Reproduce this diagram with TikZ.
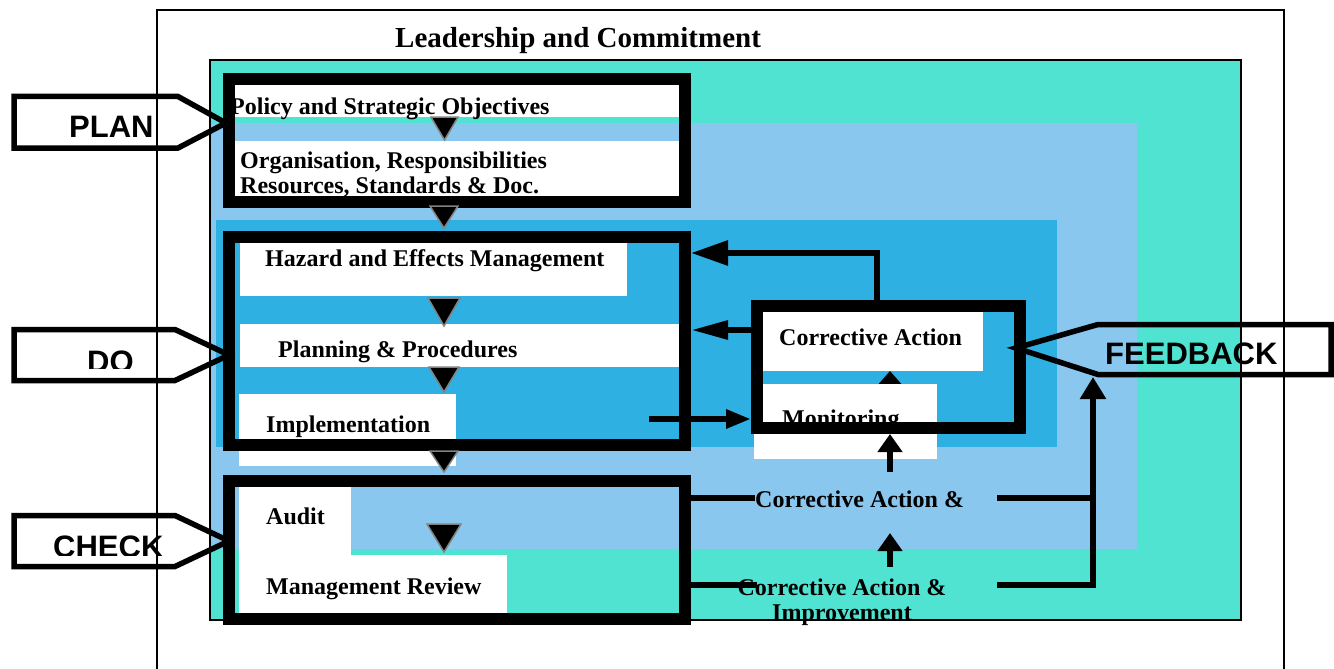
\documentclass[tikz,border=0pt]{standalone}
\usepackage{fontspec}
\setmainfont{Liberation Serif}
\newfontfamily\phasefont{Liberation Sans}
\usetikzlibrary{arrows.meta}

\definecolor{lcteal}{RGB}{80,227,210}
\definecolor{lcsky}{RGB}{138,199,238}
\definecolor{lcblue}{RGB}{47,176,227}
\definecolor{markedge}{RGB}{130,130,130}

\pgfdeclarelayer{fields}
\pgfdeclarelayer{wires}
\pgfsetlayers{fields,wires,main}

\begin{document}
\begin{tikzpicture}[x=1pt,y=-1pt,
  panel/.style={fill=white,draw=none,anchor=north west,inner sep=0pt,outer sep=0pt},
  stagebox/.style={draw=black,line width=12pt,anchor=north west,inner sep=0pt,outer sep=6pt},
  boxtext/.style={font=\fontsize{24}{26}\selectfont\bfseries,anchor=base west,inner sep=0pt},
  phasetext/.style={font=\phasefont\fontsize{31}{33}\selectfont\bfseries,anchor=base west,inner sep=0pt},
  callout/.style={draw=black,line width=5.5pt,line join=miter},
  link/.style={draw=black,line width=6pt},
  pics/flowmark/.style 2 args={code={%
    \draw[fill=black,draw=markedge,line width=1.5pt] (-#1/2,0) -- (#1/2,0) -- (0,#2) -- cycle;}}
]
\useasboundingbox (0,0) rectangle (1334,669);
\clip (0,0) rectangle (1334,669);

% ---- nested fields: leadership, plan, do, check ----
\begin{pgfonlayer}{fields}
  \draw[line width=2pt] (157,10) rectangle (1284,700);
  \path[fill=lcteal,draw=black,line width=2pt] (210,60) rectangle (1241,620);
  \fill[lcsky] (212,123) rectangle (1137,549);
  \fill[lcblue] (216,220) rectangle (1057,447);
\end{pgfonlayer}
\node[anchor=base west,inner sep=0pt,font=\fontsize{29}{31}\selectfont\bfseries]
  (lead) at (395,48) {Leadership and Commitment};

% ---- white panels ----
\node[panel,minimum width=445pt,minimum height=32pt] (polbox)   at (234,85)  {};
\node[panel,minimum width=444pt,minimum height=55pt] (orgbox)   at (235,141) {};
\node[panel,minimum width=387pt,minimum height=53pt] (hazbox)   at (240,243) {};
\node[panel,minimum width=439pt,minimum height=43pt] (planbox)  at (240,324) {};
\node[panel,minimum width=217pt,minimum height=72pt] (implbox)  at (239,394) {};
\node[panel,minimum width=112pt,minimum height=68pt] (auditbox) at (239,487) {};
\node[panel,minimum width=268pt,minimum height=58pt] (mrbox)    at (239,555) {};
\node[panel,minimum width=220pt,minimum height=59pt] (cabox)    at (763,312) {};
\node[panel,minimum width=183pt,minimum height=75pt] (monbox)   at (754,384) {};

% ---- panel texts ----
\node[boxtext] (poltxt)  at (230,114) {Policy and Strategic Objectives};
\node[boxtext] (orgtxt)  at (240,168) {Organisation, Responsibilities};
\node[boxtext] (restxt)  at (240,193) {Resources, Standards \& Doc.};
\node[boxtext] (haztxt)  at (265,266) {Hazard and Effects Management};
\node[boxtext] (plantxt) at (278,357) {Planning \& Procedures};
\node[boxtext] (impltxt) at (266,432) {Implementation};
\node[boxtext] (audtxt)  at (266,524) {Audit};
\node[boxtext] (mrtxt)   at (266,594) {Management Review};
\node[boxtext] (catxt)   at (779,345) {Corrective Action};
\node[boxtext] (montxt)  at (782,426) {Monitoring};
\node[boxtext] (ca1)     at (755,507) {Corrective Action \&};
\node[boxtext,anchor=base] (ca2) at (842,595) {Corrective Action \&};
\node[boxtext,anchor=base] (imp) at (842,620) {Improvement};

% ---- thick stage frames ----
\node[stagebox,minimum width=456.5pt,minimum height=122.5pt] (planfr) at (222.5,73) {};
\node[stagebox,minimum width=456pt,minimum height=208pt]     (dofr)   at (223,230.5) {};
\node[stagebox,minimum width=456pt,minimum height=138.5pt]   (chkfr)  at (223,474.5) {};
\node[stagebox,minimum width=263pt,minimum height=122pt]     (cafr)   at (751,300) {};

% ---- flow markers between steps ----
\pic at (444.5,117) {flowmark={27}{23}};
\pic at (444,206)   {flowmark={28}{22}};
\pic at (444,298)   {flowmark={32}{28}};
\pic at (444,367)   {flowmark={30}{25}};
\pic at (444,451)   {flowmark={28}{21}};
\pic at (444,524)   {flowmark={34}{28}};

% ---- connectors ----
\coordinate (spine)   at (890,0);
\coordinate (loopx)   at (877,253);
\coordinate (rowmid)  at (0,330);
\coordinate (implout) at (649,419);
\coordinate (monin)   at (890,472);
\coordinate (caup0)   at (890,567);
\coordinate (caup1)   at (890,533);
\coordinate (rowA)    at (0,498);
\coordinate (rowB)    at (0,585);
\coordinate (lb)      at (757,585);
\coordinate (ra)      at (997,498);
\coordinate (rb)      at (997,585);
\coordinate (fbfoot)  at (1093,585);
\coordinate (fbbase)  at (1098,377);

\begin{pgfonlayer}{wires}
  \draw[link,-{Triangle[length=13pt,width=22pt]}] (spine |- monbox.center) -- (spine |- cabox.south);
\end{pgfonlayer}

\draw[link,-{Triangle[length=37pt,width=24pt]}] (loopx |- cafr.north) -- (loopx) -- (loopx -| dofr.east);
\draw[link,-{Triangle[length=37pt,width=18pt]}] (cafr.west |- rowmid) -- (dofr.east |- rowmid);
\draw[link,-{Triangle[length=25pt,width=18pt]}] (implout) -- (cafr.west |- implout);
\draw[link,-{Triangle[length=18pt,width=24pt]}] (monin) -- (spine |- cafr.south);
\draw[link,-{Triangle[length=18pt,width=24pt]}] (caup0) -- (caup1);

\draw[link] (chkfr.east |- rowA) -- (ca1.west |- rowA);
\draw[link] (chkfr.east |- rowB) -- (lb);
\draw[link] (ra) -- (fbfoot |- ra);
\draw[link,-{Triangle[length=22pt,width=25pt]}] (rb) -- (fbfoot) -- (fbfoot |- fbbase);

% ---- phase callouts ----
\draw[callout] (14,96.5) -- (178,96.5) -- (226,123) -- (178,148) -- (14,148) -- cycle;
\node[phasetext] (plan) at (69,137) {PLAN};

\draw[callout] (14,329.5) -- (175,329.5) -- (229,355) -- (175,380.5) -- (14,380.5) -- cycle;
\begin{scope}
  \clip (0,300) rectangle (300,368);
  \node[phasetext] (do) at (87,372) {DO};
\end{scope}

\draw[callout] (14,515.5) -- (175,515.5) -- (229,541) -- (175,566.5) -- (14,566.5) -- cycle;
\begin{scope}
  \clip (0,500) rectangle (300,555);
  \node[phasetext] (check) at (53,557) {CHECK};
\end{scope}

\draw[callout] (1331,324.5) -- (1098,324.5) -- (1016,348) -- (1098,374.5) -- (1331,374.5) -- cycle;
\node[phasetext] (feedback) at (1105,364) {FEEDBACK};

\end{tikzpicture}
\end{document}
